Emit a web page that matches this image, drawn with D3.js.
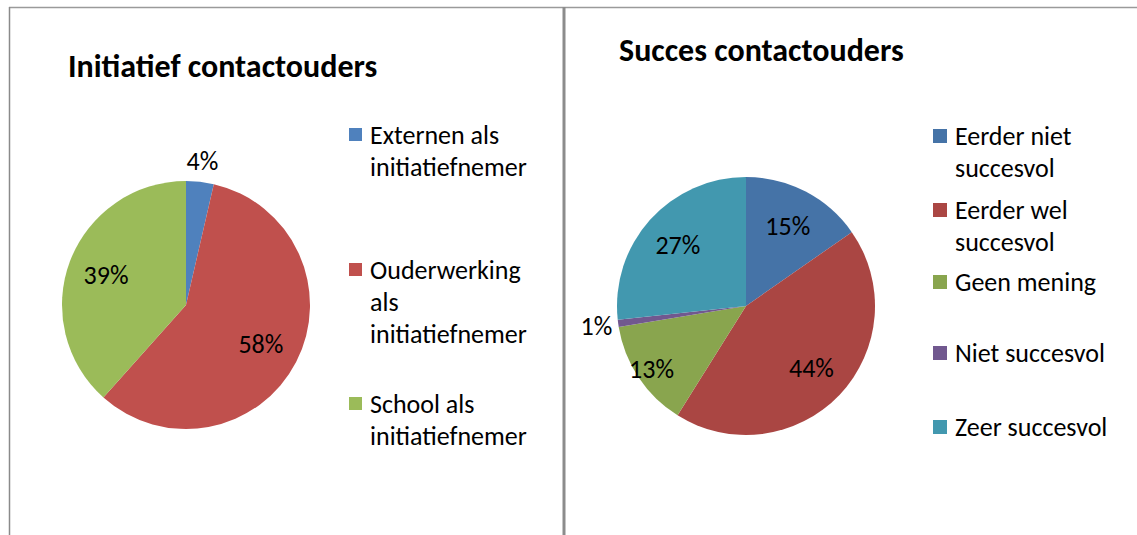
<!DOCTYPE html>
<html>
<head>
<meta charset="utf-8">
<script src="https://cdn.jsdelivr.net/npm/d3@7"></script>
<style>
  body { margin: 0; background: #fff; }
  text { font-family: Carlito, Lato, "Open Sans", sans-serif; fill: #000; }
</style>
</head>
<body>
<div id="chart"></div>
<script>
// left chart
var initCategories = ["Externen als initiatiefnemer", "Ouderwerking als initiatiefnemer", "School als initiatiefnemer"];
var initLegendLines = [["Externen als", "initiatiefnemer"], ["Ouderwerking", "als", "initiatiefnemer"], ["School als", "initiatiefnemer"]];
var initValues = [3.6, 58.0, 38.4];
var initLabels = ["4%", "58%", "39%"];
var initColors = ["#4F81BD", "#C0504D", "#9BBB59"];

// right chart
var succCategories = ["Eerder niet succesvol", "Eerder wel succesvol", "Geen mening", "Niet succesvol", "Zeer succesvol"];
var succLegendLines = [["Eerder niet", "succesvol"], ["Eerder wel", "succesvol"], ["Geen mening"], ["Niet succesvol"], ["Zeer succesvol"]];
var succValues = [15.3, 43.6, 13.5, 0.9, 26.7];
var succLabels = ["15%", "44%", "13%", "1%", "27%"];
var succColors = ["#4573A7", "#AA4643", "#89A54E", "#71588F", "#4298AF"];

const W = 1137, H = 535;

let svg = d3.select("#chart").append("svg")
    .attr("width", W)
    .attr("height", H);

// frame lines
svg.append("line").attr("x1", 9).attr("x2", W).attr("y1", 7.5).attr("y2", 7.5)
    .attr("stroke", "#9a9a9a").attr("stroke-width", 1.5);
svg.append("line").attr("x1", 9.5).attr("x2", 9.5).attr("y1", 7).attr("y2", H)
    .attr("stroke", "#8a8a8a").attr("stroke-width", 1.5);
svg.append("line").attr("x1", 564).attr("x2", 564).attr("y1", 7).attr("y2", H)
    .attr("stroke", "#8c8c8c").attr("stroke-width", 3);

function drawPie(opt) {
  let g = svg.append("g");

  g.append("text")
      .attr("x", opt.titleX)
      .attr("y", opt.titleY)
      .attr("font-size", "32px")
      .attr("font-weight", "bold")
      .text(opt.title);

  let pie = d3.pie()
      .value((d) => d)
      .sort(null);

  let arc = d3.arc()
      .innerRadius(0)
      .outerRadius(opt.r);

  let pg = g.append("g")
      .attr("transform", `translate(${ opt.cx }, ${ opt.cy })`);

  let arcs = pie(opt.values);

  pg.selectAll("path")
      .data(arcs)
      .enter().append("path")
      .attr("fill", (d, i) => opt.colors[i])
      .attr("d", arc);

  pg.selectAll("text")
      .data(arcs)
      .enter().append("text")
      .attr("text-anchor", "middle")
      .attr("dominant-baseline", "central")
      .attr("font-size", "26px")
      .attr("transform", (d, i) => {
        let a = (d.startAngle + d.endAngle) / 2;
        let rr = opt.r * opt.labelR[i];
        return `translate(${ rr * Math.sin(a) }, ${ -rr * Math.cos(a) })`;
      })
      .text((d, i) => opt.labels[i]);

  // legend
  let lg = g.append("g")
      .attr("transform", `translate(${ opt.legX }, 0)`);

  opt.legendLines.forEach((lines, i) => {
    let y0 = opt.legY[i];
    lg.append("rect")
        .attr("x", 0)
        .attr("y", y0 - 7)
        .attr("width", opt.sq)
        .attr("height", opt.sq)
        .attr("fill", opt.colors[i]);
    let t = lg.append("text")
        .attr("font-size", "26px")
        .attr("dominant-baseline", "central");
    lines.forEach((ln, j) => {
      t.append("tspan")
          .attr("x", opt.legTextX)
          .attr("y", y0 + j * 32)
          .text(ln);
    });
  });
}

drawPie({
  title: "Initiatief contactouders",
  titleX: 68, titleY: 77,
  cx: 186, cy: 305, r: 124,
  values: initValues, labels: initLabels, colors: initColors,
  legendLines: initLegendLines,
  labelR: [1.17, 0.68, 0.69],
  legX: 349, legTextX: 21, legY: [135, 270, 404], sq: 13
});

drawPie({
  title: "Succes contactouders",
  titleX: 619, titleY: 61,
  cx: 746, cy: 306, r: 129,
  values: succValues, labels: succLabels, colors: succColors,
  legendLines: succLegendLines,
  labelR: [0.70, 0.70, 0.88, 1.17, 0.71],
  legX: 933, legTextX: 22, legY: [136, 210, 282, 353, 427], sq: 14
});
</script>
</body>
</html>
